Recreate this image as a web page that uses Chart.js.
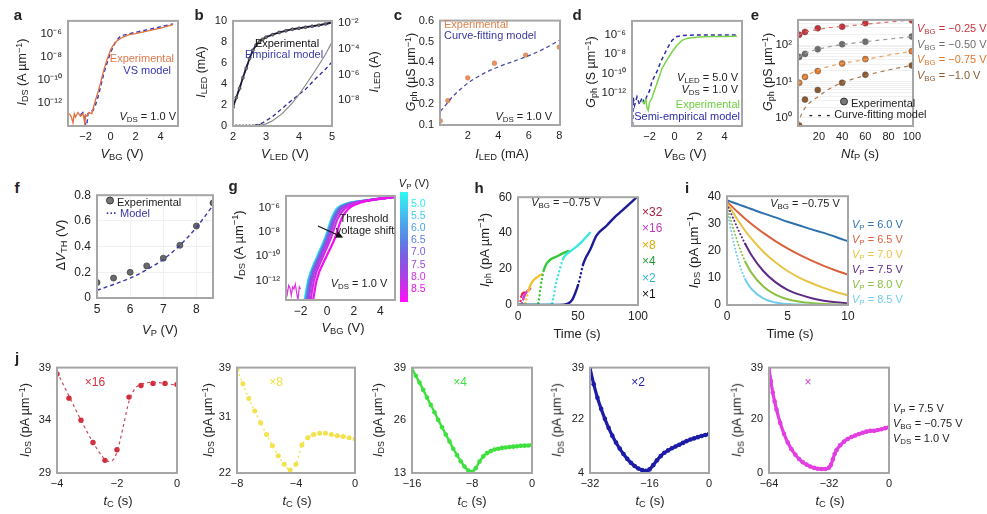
<!DOCTYPE html>
<html><head><meta charset="utf-8">
<script src="https://cdn.jsdelivr.net/npm/chart.js@4.4.1/dist/chart.umd.min.js"></script>
<style>
body{margin:0;background:#fff;width:987px;height:514px;position:relative;overflow:hidden;font-family:'Liberation Sans',Arial,sans-serif;color:#222}
canvas{position:absolute}
.t{position:absolute;white-space:nowrap;line-height:1}
sub{font-size:72%;vertical-align:-0.28em;line-height:0}
sup{font-size:72%;vertical-align:0.45em;line-height:0}
.dot{display:inline-block;width:6px;height:6px;border-radius:50%;background:#777;border:1px solid #333;margin-right:3px;vertical-align:1px}
.cbar{position:absolute;left:400px;top:192px;width:8px;height:110px;background:linear-gradient(#2ef8f0 0%,#3fd0f2 14%,#4ea2ea 30%,#5c7fe4 45%,#7a5ee0 58%,#a046e2 72%,#cc2ee8 86%,#ff10ff 100%)}
</style></head><body>
<script>
// ================= DATA =================
// a: I_DS vs V_BG (log)
const aExpV = [-3.3,-3.15,-3.0,-2.9,-2.8,-2.6,-2.4,-2.2,-2.05,-2.0,-1.9,-1.7,-1.5,-1.4,-1.2,-1.0,-0.8,-0.6,-0.3,0,0.2,0.5,1.0,1.5,2.0,3.0,4.0,5.0];
const aExpI = [1e-13,6e-14,1.6e-14,1e-13,5e-14,1.3e-13,6e-14,1e-13,1.3e-14,8e-14,6e-14,1.3e-13,1e-13,2.5e-13,1.6e-12,8e-12,5e-11,4e-10,5e-9,4e-8,1e-7,2.5e-7,5.6e-7,9e-7,1.1e-6,2e-6,3.5e-6,7e-6];
const aVsV = [-2.4,-2.2,-2.05,-2.0,-1.95,-1.9,-1.8,-1.6,-1.4,-1.2,-1.0,-0.5,0,0.4,0.8,1.5,3.0,5.0];
const aVsI = [8e-14,1.3e-13,6e-14,1e-14,8e-15,1e-14,1e-13,1.6e-13,2e-13,6e-13,3e-12,5e-10,2.5e-8,2e-7,7e-7,1.1e-6,2.5e-6,8e-6];
// b: I_LED vs V_LED
const bLogV = [2.0,2.1,2.2,2.3,2.4,2.5,2.6,2.7,2.8,2.9,3.0,3.2,3.4,3.6,3.8,4.0,4.2,4.4,4.6,4.8,5.0];
const bLogExpI = [2.9e-9,1.6e-8,8.5e-8,5.6e-7,3e-6,1.7e-5,7.4e-5,1.9e-4,3.3e-4,5.3e-4,7.7e-4,1.2e-3,1.8e-3,2.4e-3,3.2e-3,3.8e-3,4.6e-3,5.5e-3,6.6e-3,8.3e-3,1.07e-2];
const bLogModV = [2.0,2.2,2.4,2.6,2.8,3.0,3.5,4.0,4.5,5.0];
const bLogModI = [3.2e-9,9e-8,3.2e-6,7e-5,3.5e-4,8e-4,2.2e-3,3.8e-3,5.8e-3,1.0e-2];
const bLinExpV = [2.0,2.1,2.2,2.3,2.4,2.5,2.6,2.7,2.8,3.0,3.2,3.5,3.8,4.0,4.2,4.5,4.8,5.0];
const bLinExpI = [0,0,0,0,0,0,0,0.02,0.05,0.2,0.5,1.2,2.2,3.0,3.9,5.3,6.8,8.0];
const bLinModV = [2.0,2.6,2.9,3.2,3.5,3.8,4.0,4.2,4.5,4.8,5.0];
const bLinModI = [0,0,0.3,0.9,1.7,2.5,3.0,3.5,4.5,5.4,6.1];
// c: G_ph vs I_LED
const cExpX = [0.2,0.7,2.0,3.75,5.8,8.0];
const cExpG = [0.12,0.217,0.326,0.396,0.435,0.473];
const cFitX = [0.2,0.6,1,1.5,2,3,4,5,6,7,8];
const cFitG = [0.165,0.2,0.235,0.27,0.3,0.345,0.378,0.405,0.432,0.465,0.505];
// d: G_ph vs V_BG
const dExpV = [-2.6,-2.45,-2.3,-2.2,-2.1,-2.0,-1.8,-1.4,-1.0,-0.6,-0.2,0.2,0.6,1.0,1.5,2.0,3.0,4.0,5.0];
const dExpG = [1.6e-13,8e-14,2e-13,3.2e-14,1.6e-14,1e-13,3.2e-13,1e-11,3.2e-10,2.5e-9,1.6e-8,8e-8,2.5e-7,4e-7,5e-7,5.6e-7,6.3e-7,6.3e-7,6.5e-7];
const dModV = [-3.35,-3.3,-3.2,-3.0,-2.8,-2.6,-2.4,-2.2,-2.0,-1.8,-1.4,-1.1,-0.8,-0.45,-0.2,0.2,0.6,1.0,2.0,3.0,5.0];
const dModG = [4e-16,3.2e-13,5e-14,4e-13,6.3e-14,3.2e-13,1e-13,5e-13,1.6e-12,1.6e-11,1.6e-10,1.6e-9,1e-8,7.4e-8,2.5e-7,6.3e-7,8e-7,8.5e-7,8.9e-7,8.9e-7,9e-7];
// e: G_ph vs Nt_P
const eX = [3,8,19,40,60,100];
const eG025 = [195,234,295,324,407,490];
const eG050 = [48,58,78,107,126,174];
const eG075 = [9.3,13.5,19.5,31.6,41.7,69];
const eG100 = [0.62,3.2,5.9,9.3,15.5,28];
const eFitX = [2,5,10,20,30,40,60,80,100];
const eFit025 = [186,209,240,275,309,331,380,437,501];
const eFit050 = [45,52,63,79,93,105,126,148,174];
const eFit075 = [8.3,11.2,14.8,21.4,26.9,31.6,40.7,53.7,69];
const eFit100 = [0.63,1.26,2.24,4,6.6,9.3,14.8,20.9,28.2];
const eLabels = ['−0.25','−0.50','−0.75','−1.0'];
// f: dV_TH vs V_P
const fVP = [5,5.5,6,6.5,7,7.5,8,8.5];
const fExp = [0.12,0.155,0.2,0.25,0.31,0.41,0.56,0.74];
const fModel = [0.06,0.105,0.155,0.22,0.30,0.41,0.55,0.72];
// g: I_DS vs V_BG for V_P = 5.0 ... 8.5
const gVP = ['5.0','5.5','6.0','6.5','7.0','7.5','8.0','8.5'];
const gLevels = [2.5e-14,1e-12,1e-10,3e-9,1.3e-7,8e-7,2e-6,3.2e-6,5e-6,7.6e-6];
const gV50 = [-1.70,-1.44,-0.75,-0.17,0.33,0.71,1.35,2.35,3.60,5.1];
const gV55 = [-1.66,-1.40,-0.71,-0.13,0.37,0.76,1.40,2.40,3.62,5.1];
const gV60 = [-1.62,-1.36,-0.67,-0.09,0.41,0.82,1.46,2.44,3.64,5.1];
const gV65 = [-1.56,-1.31,-0.62,-0.04,0.46,0.88,1.53,2.48,3.66,5.1];
const gV70 = [-1.50,-1.25,-0.56,0.02,0.52,0.96,1.61,2.54,3.68,5.1];
const gV75 = [-1.40,-1.15,-0.46,0.12,0.62,1.10,1.76,2.62,3.72,5.1];
const gV80 = [-1.25,-1.00,-0.31,0.27,0.80,1.32,1.98,2.72,3.76,5.1];
const gV85 = [-1.06,-0.80,-0.05,0.58,1.09,1.60,2.23,2.80,3.80,5.1];
const gNoiseV = [-3.1,-3.0,-2.9,-2.8,-2.7,-2.6,-2.5,-2.4,-2.3,-2.2,-2.1,-2.0];
const gNoiseI = [3e-13,8e-14,4e-13,2.5e-13,6e-14,3e-13,2e-13,5e-13,1e-13,2.5e-14,3e-13,2e-13];
// h: I_ph vs time
const hLabels = ['×32','×16','×8','×4','×2','×1'];
const hT1 = [0,20,38,42,45,47.5,50,51.7,54.2,57,60,65.5,73.8,80,84.8,90,95,100];
const hI1 = [0,0,0.2,0.9,2.7,6.3,11,15.3,22.5,27,30.6,38.7,44.1,48.5,51.4,54.5,57.6,60.7];
const hT2 = [0,20,27,28.5,29.5,31.3,34,37.8,40,43.3,50.2,54.3,57,60];
const hI2 = [0,0,0.2,0.9,4,10.8,18,26,28,29.7,33.3,36,38,40.2];
const hT4 = [0,10,16,16.9,18.5,19.8,21.3,23,25.4,28,32.3,36,40.6,42];
const hI4 = [0,0,0.2,0.9,8.1,14,18.9,22,24.3,25.8,27,28.3,29.7,30];
const hT8 = [0,5,6.1,7.5,8.8,10,11.6,13.5,15.7,18,20];
const hI8 = [0,0,0.9,4.5,8.1,10.5,12.6,14.2,15.3,16.4,17];
const hT16 = [0,2.5,3.3,4.5,6.1,8,10.2];
const hI16 = [0,0,0.9,3.5,6.3,7.9,9.0];
const hT32 = [0,1.5,2,2.5,3.2,4,5];
const hI32 = [0,0,2,4,5.5,6.5,7];
// i: I_DS decay vs time
const iVP = ['6.0','6.5','7.0','7.5','8.0','8.5'];
const iT = [0,0.5,1,1.5,2,3,4,5,6,7,8,9,10];
const iI60 = [38.5,37.7,36.9,36.1,35.3,33.7,32.2,30.6,29.2,27.8,26.5,25.0,23.4];
const iI65 = [38,35.8,33.7,31.7,29.9,26.5,23.5,20.8,18.4,16.3,14.4,12.7,11.2];
const iI70 = [37.5,34,30.5,27.3,24.5,19.6,15.7,12.5,10,8,6.3,4.8,3.5];
const iI75 = [37,32,27,22.5,18.5,12.5,8.4,5.6,3.8,2.5,1.6,1.0,0.6];
const iI80 = [36,28.5,21.5,16,12,6.8,3.8,2.1,1.2,0.7,0.4,0.2,0.1];
const iI85 = [35,24,15.5,9.5,6,2.4,0.9,0.35,0.15,0.05,0,0,0];
// j: I_DS vs t_C
const j1T = [-4,-3.6,-3.2,-2.8,-2.4,-2.0,-1.6,-1.2,-0.8,-0.4,0];
const j1I = [38.4,36.1,34.0,31.9,30.2,31.2,36.2,37.3,37.5,37.5,37.4];
const j1ModT = [-4,-3.6,-3.2,-2.8,-2.5,-2.3,-2.15,-2.0,-1.8,-1.6,-1.4,-1.2,-0.8,-0.4,0];
const j1ModI = [38.6,36.3,34.0,31.9,30.6,30.1,30.2,31.0,33.3,35.8,37.0,37.4,37.6,37.5,37.3];
const j2T = [-8,-7.6,-7.2,-6.8,-6.4,-6.0,-5.6,-5.2,-4.8,-4.4,-4.0,-3.6,-3.2,-2.8,-2.4,-2.0,-1.6,-1.2,-0.8,-0.4,0];
const j2I = [38.7,36.4,34.0,32.0,30.1,28.2,26.4,24.8,23.4,22.5,23.4,26.5,27.7,28.2,28.4,28.4,28.2,28.0,27.9,27.7,27.5];
const j3T = [-16,-15.5,-15,-14.5,-14,-13.5,-13,-12.5,-12,-11.5,-11,-10.5,-10,-9.5,-9,-8.5,-8,-7.5,-7,-6.5,-6,-5.5,-5,-4.5,-4,-3.5,-3,-2.5,-2,-1.5,-1,-0.5,0];
const j3I = [38.8,37.0,35.3,33.5,31.6,29.8,28.0,26.1,24.3,22.5,20.8,19.0,17.4,15.9,14.6,13.6,13.3,14.2,15.8,17.1,17.9,18.4,18.8,19.0,19.2,19.3,19.4,19.5,19.6,19.7,19.75,19.8,19.9];
const j4T = [-32,-31,-30,-29,-28,-27,-26,-25,-24,-23,-22,-21,-20,-19,-18,-17,-16,-15,-14,-13,-12,-11,-10,-9,-8,-7,-6,-5,-4,-3,-2,-1,0];
const j4I = [38.8,33.5,29.0,25.3,22.0,19.0,16.4,14.1,12.1,10.3,8.7,7.4,6.3,5.5,5.0,4.7,5.2,6.6,8.2,9.6,10.7,11.5,12.2,12.8,13.4,14.0,14.6,15.1,15.5,15.9,16.3,16.6,16.9];
const j5T = [-64,-63,-62,-61,-60,-58,-56,-54,-52,-50,-48,-46,-44,-42,-40,-38,-36,-34,-32,-31,-30,-29,-28,-26,-24,-22,-20,-18,-16,-14,-12,-10,-8,-6,-4,-2,0];
const j5I = [38.6,34,29.8,26.5,23.5,18.5,14.5,11.3,8.8,6.8,5.2,4.0,3.1,2.4,1.9,1.6,1.5,1.5,2.0,3.0,5.0,7.0,8.4,10.3,11.6,12.6,13.3,13.9,14.4,14.9,15.3,15.6,15.6,15.9,16.2,16.6,16.9];

// ================= HELPERS =================
const FONT = "'Liberation Sans', Arial, sans-serif";
Chart.defaults.font.family = FONT;
Chart.defaults.color = '#222';
const SUP = {'0':'⁰','1':'¹','2':'²','3':'³','4':'⁴','5':'⁵','6':'⁶','7':'⁷','8':'⁸','9':'⁹','-':'⁻'};
const pow10 = v => '10' + String(Math.round(Math.log10(v))).split('').map(c => SUP[c]).join('');
const mns = v => String(v).replace('-', '\u2212');
const xy = (xs, ys) => xs.map((x, i) => ({x: x, y: ys[i]}));
const fixedTicks = arr => sc => { sc.ticks = arr.map(v => ({value: v})); };
const DASH = [4, 3];

const framePlugin = {id: 'frame', afterDraw(chart) {
  const a = chart.chartArea, ctx = chart.ctx;
  ctx.save(); ctx.strokeStyle = '#a6a6a6'; ctx.lineWidth = 2;
  ctx.strokeRect(a.left, a.top, a.right - a.left, a.bottom - a.top); ctx.restore();
}};

function line(xs, ys, color, extra) {
  return Object.assign({data: xy(xs, ys), borderColor: color, backgroundColor: color,
    borderWidth: 1.4, pointRadius: 0, pointBorderWidth: 0, tension: 0, fill: false}, extra || {});
}
function steep(thr, dash) {
  return {borderDash: c => (Math.abs((c.p1.y - c.p0.y) / ((c.p1.x - c.p0.x) || 0.01)) > thr ? dash : undefined)};
}

function panel(box, datasets, scales) {
  const PL = 50, PT = 10, PR = box.pr || 22, PB = 28;
  const cv = document.createElement('canvas');
  const W = box.r - box.l + PL + PR, H = box.b - box.t + PT + PB;
  cv.width = W; cv.height = H;
  cv.style.left = (box.l - PL) + 'px'; cv.style.top = (box.t - PT) + 'px';
  cv.style.width = W + 'px'; cv.style.height = H + 'px';
  document.body.appendChild(cv);
  for (const [id, s] of Object.entries(scales)) {
    s.grid = Object.assign({display: false, drawTicks: false}, s.grid || {});
    s.border = {display: false};
    s.title = {display: false};
    const isX = id.startsWith('x');
    s.ticks = Object.assign({padding: isX ? 4 : 6, font: {size: box.fs || 11}, color: '#222', autoSkip: false, maxRotation: 0},
      s.ticks || {});
    const pos = s.position || (isX ? 'bottom' : 'left');
    s.afterFit = sc => { if (pos === 'bottom') sc.height = PB; else if (pos === 'left') sc.width = PL; else sc.width = PR; };
  }
  new Chart(cv, {
    type: 'line',
    data: {datasets: datasets},
    options: {
      responsive: false, animation: false, maintainAspectRatio: false,
      layout: {padding: {top: PT, right: box.rightAxis ? 0 : PR, left: 0, bottom: 0}},
      plugins: {legend: {display: false}, tooltip: {enabled: false}},
      scales: scales
    },
    plugins: [framePlugin]
  });
}

function txt(html, x, y, o) {
  o = o || {};
  const d = document.createElement('div');
  d.className = 't'; d.innerHTML = html;
  d.style.left = x + 'px'; d.style.top = y + 'px';
  d.style.fontSize = (o.size || 12) + 'px';
  if (o.color) d.style.color = o.color;
  if (o.bold) d.style.fontWeight = 'bold';
  let tr = o.align === 'l' ? 'translate(0,-50%)' : o.align === 'r' ? 'translate(-100%,-50%)' : 'translate(-50%,-50%)';
  if (o.rot) tr += ' rotate(-90deg)';
  d.style.transform = tr;
  document.body.appendChild(d);
}

const logY = (min, max, ticks, extra) => Object.assign({type: 'logarithmic', min: min, max: max,
  afterBuildTicks: fixedTicks(ticks), ticks: {callback: v => pow10(v), font: {size: 11.5}}}, extra || {});
const linX = (min, max, ticks, fmt) => ({type: 'linear', min: min, max: max,
  afterBuildTicks: fixedTicks(ticks), ticks: {callback: fmt || (v => mns(v))}});
const linY = linX;

// ================= PANELS =================
const ORANGE = '#e0703c', NAVY = '#2b2b9a';
// a
panel({l: 68, t: 18, r: 178, b: 126}, [
  line(aExpV, aExpI, ORANGE, {borderWidth: 1.3}),
  line(aVsV, aVsI, '#3d3dc0', {borderDash: DASH, borderWidth: 1.5})
], {x: linX(-3.4, 5.4, [-2, 0, 2, 4]), y: logY(10 ** -14.08, 10 ** -4.83, [1e-12, 1e-10, 1e-8, 1e-6])});

// b
panel({l: 233, t: 18, r: 332, b: 126, pr: 45, rightAxis: true}, [
  line(bLinExpV, bLinExpI, '#8a8a8a', {borderWidth: 1.2, pointRadius: c => (c.raw && c.raw.y < 0.1 ? 1.4 : 0), pointBackgroundColor: '#333'}),
  line(bLinModV, bLinModI, NAVY, {borderDash: DASH, borderWidth: 1.3}),
  line(bLogV, bLogExpI, '#1a1a3a', {yAxisID: 'y2', borderWidth: 1.8, pointRadius: 1.5, pointBackgroundColor: '#777', pointBorderColor: '#333', pointBorderWidth: 0.6}),
  line(bLogModV, bLogModI, '#3b3bb8', {yAxisID: 'y2', borderDash: DASH, borderWidth: 1.6, cubicInterpolationMode: 'monotone'})
], {x: linX(2, 5, [2, 3, 4, 5]), y: linY(0, 10, [0, 2, 4, 6, 8, 10]),
    y2: Object.assign(logY(1e-10, 10 ** -1.85, [1e-8, 1e-6, 1e-4, 1e-2]), {position: 'right'})});

// c
panel({l: 440, t: 18, r: 560, b: 125}, [
  line(cFitX, cFitG, '#4a4aa8', {borderDash: DASH, borderWidth: 1.3, cubicInterpolationMode: 'monotone'}),
  line(cExpX, cExpG, '#e08850', {showLine: false, pointRadius: 2.6, pointBackgroundColor: '#e59060'})
], {x: linX(0.18, 8.05, [2, 4, 6, 8]), y: linY(0.1, 0.6, [0.1, 0.2, 0.3, 0.4, 0.5, 0.6], v => v.toFixed(1))});

// d
panel({l: 632, t: 18, r: 742, b: 126}, [
  line(dExpV, dExpG, '#7cd44a', {borderWidth: 1.5}),
  line(dModV, dModG, '#2e2eaa', {borderDash: DASH, borderWidth: 1.5})
], {x: linX(-3.4, 5.4, [-2, 0, 2, 4]), y: logY(10 ** -15.4, 10 ** -4.6, [1e-12, 1e-10, 1e-8, 1e-6])});

// e
const eCol = ['#c8323a', '#6e6e6e', '#e0782c', '#8c5a30'];
const eFitCol = ['#d86a6a', '#9a9a9a', '#eaa060', '#a87a50'];
const eSeries = [eG025, eG050, eG075, eG100];
const eFits = [eFit025, eFit050, eFit075, eFit100];
const eDs = [];
eFits.forEach((f, k) => eDs.push(line(eFitX, f, eFitCol[k], {borderDash: [4, 4], borderWidth: 1.2, cubicInterpolationMode: 'monotone'})));
eSeries.forEach((s, k) => eDs.push(line(eX, s, eCol[k], {showLine: false, pointRadius: 3, pointBackgroundColor: eCol[k], pointBorderColor: '#555', pointBorderWidth: 0.5})));
const eGridTicks = [1, 2, 3, 4, 5, 6, 7, 8, 9, 10, 20, 30, 40, 50, 60, 70, 80, 90, 100, 200, 300, 400, 500];
panel({l: 798, t: 17, r: 913, b: 126}, eDs, {
  x: linX(2, 101, [20, 40, 60, 80, 100]),
  y: {type: 'logarithmic', min: 10 ** -0.21, max: 10 ** 2.7, afterBuildTicks: fixedTicks(eGridTicks),
      grid: {display: true, color: '#f0f0f0', lineWidth: 1},
      ticks: {callback: v => ([1, 10, 100].includes(v) ? pow10(v) : ''), font: {size: 11.5}}}
});

// f
panel({l: 97, t: 192, r: 213, b: 298, fs: 12}, [
  line(fVP, fModel, '#3a3aa6', {borderDash: DASH, borderWidth: 1.4, cubicInterpolationMode: 'monotone'}),
  line(fVP, fExp, '#666', {showLine: false, pointRadius: 3, pointBackgroundColor: '#6a6a6a', pointBorderColor: '#444', pointBorderWidth: 0.8})
], {x: Object.assign(linX(5, 8.5, [5, 6, 7, 8]), {grid: {display: true, color: '#f0f0f0'}}),
    y: Object.assign(linY(0, 0.8, [0, 0.2, 0.4, 0.6, 0.8], v => (v === 0 ? '0' : v.toFixed(1))), {grid: {display: true, color: '#f0f0f0'}})});

// g
const gCol = ['#2ef2ee', '#3fc9f0', '#4ea2ea', '#5c7fe4', '#7a5ee0', '#a046e2', '#cc2ee8', '#f010f0'];
const gVs = [gV50, gV55, gV60, gV65, gV70, gV75, gV80, gV85];
const gDs = [line(gNoiseV, gNoiseI, '#e030e0', {borderWidth: 1.2})];
gVs.slice().reverse().forEach((v, k) => {
  const idx = gVs.length - 1 - k;
  gDs.push(line(v, gLevels, gCol[idx], {borderWidth: 2.2, cubicInterpolationMode: 'monotone'}));
});
panel({l: 286, t: 193, r: 395, b: 300, fs: 12}, gDs,
  {x: linX(-3.1, 5.1, [-2, 0, 2, 4]), y: logY(10 ** -13.6, 10 ** -5.04, [1e-12, 1e-10, 1e-8, 1e-6])});

// h
const hCol = ['#e8204e', '#d03cd0', '#f0c232', '#38c838', '#3ee6e0', '#1c1c96'];
const hT = [hT32, hT16, hT8, hT4, hT2, hT1];
const hI = [hI32, hI16, hI8, hI4, hI2, hI1];
const hDs = [];
for (let k = 5; k >= 0; k--) hDs.push(line(hT[k], hI[k], hCol[k], {borderWidth: 2.4, borderCapStyle: 'round', segment: steep(3, [0.1, 4]), cubicInterpolationMode: 'monotone'}));
panel({l: 518, t: 194, r: 638, b: 305, fs: 12}, hDs,
  {x: linX(0, 100, [0, 50, 100]), y: linY(0, 60, [0, 20, 40, 60])});

// i
const iCol = ['#2e72ad', '#d9623c', '#e9c443', '#5e2a86', '#8dc040', '#70cdf0'];
const iI = [iI60, iI65, iI70, iI75, iI80, iI85];
const iDs = [];
for (let k = 5; k >= 0; k--) iDs.push(line(iT, iI[k], iCol[k], {borderWidth: 2, borderCapStyle: 'round', segment: steep(2, [0.1, 3.5]), cubicInterpolationMode: 'monotone'}));
panel({l: 727, t: 193, r: 848, b: 305, fs: 12}, iDs,
  {x: linX(0, 10, [0, 5, 10]), y: linY(0, 40, [0, 10, 20, 30, 40])});

// j
panel({l: 57, t: 365, r: 177, b: 473}, [
  line(j1ModT, j1ModI, '#c8485a', {borderDash: [3, 3], borderWidth: 1.2, cubicInterpolationMode: 'monotone'}),
  line(j1T, j1I, '#d42a3a', {showLine: false, pointRadius: 2.7})
], {x: linX(-4, 0, [-4, -2, 0]), y: linY(29, 39, [29, 34, 39])});
panel({l: 237, t: 365, r: 355, b: 473}, [
  line(j2T, j2I, '#f2e24c', {borderDash: [2, 3], borderWidth: 1.3, pointRadius: 2.5, cubicInterpolationMode: 'monotone'})
], {x: linX(-8, 0, [-8, -4, 0]), y: linY(22, 39, [22, 31, 39])});
panel({l: 412, t: 365, r: 532, b: 473}, [
  line(j3T, j3I, '#3ee03e', {borderWidth: 2.4, pointRadius: 2.3, cubicInterpolationMode: 'monotone'})
], {x: linX(-16, 0, [-16, -8, 0]), y: linY(13, 39, [13, 26, 39])});
panel({l: 590, t: 365, r: 709, b: 473}, [
  line(j4T, j4I, '#1c1ca8', {borderWidth: 3.2, pointRadius: 2.3, cubicInterpolationMode: 'monotone'})
], {x: linX(-32, 0, [-32, -16, 0]), y: linY(4, 39, [4, 22, 39])});
panel({l: 769, t: 365, r: 889, b: 473}, [
  line(j5T, j5I, '#e23ee2', {borderWidth: 3.2, pointRadius: 2.3, cubicInterpolationMode: 'monotone'})
], {x: linX(-64, 0, [-64, -32, 0]), y: linY(0, 39, [0, 20, 39])});

// ================= TEXT =================
const L = {bold: true, size: 15};
txt('a', 18, 14, L); txt('b', 199, 14, L); txt('c', 398, 14, L); txt('d', 577, 14, L); txt('e', 755, 14, L);
txt('f', 17, 187, L); txt('g', 233, 185, L); txt('h', 479, 187, L); txt('i', 687, 187, L); txt('j', 17, 357, L);

const IDS_A = '<i>I</i><sub>DS</sub> (A µm<sup>−1</sup>)';
const IDS_pA = '<i>I</i><sub>DS</sub> (pA µm<sup>−1</sup>)';
const VBG = '<i>V</i><sub>BG</sub> (V)';
const R = {rot: true, size: 12.5};
const R2 = {rot: true, size: 13};
// y titles
txt(IDS_A, 22, 72, R);
txt('<i>I</i><sub>LED</sub> (mA)', 201, 72, R);
txt('<i>I</i><sub>LED</sub> (A)', 374, 72, R);
txt('<i>G</i><sub>ph</sub> (µS µm<sup>−1</sup>)', 411, 72, R);
txt('<i>G</i><sub>ph</sub> (S µm<sup>−1</sup>)', 591, 72, R);
txt('<i>G</i><sub>ph</sub> (pS µm<sup>−1</sup>)', 768, 72, R);
txt('Δ<i>V</i><sub>TH</sub> (V)', 60, 245, R2);
txt(IDS_A, 238, 245, R2);
txt('<i>I</i><sub>ph</sub> (pA µm<sup>−1</sup>)', 484, 250, R2);
txt(IDS_pA, 693, 250, R2);
[25, 208, 378, 557, 737].forEach(x => txt(IDS_pA, x, 420, R));
// x titles
const X1 = {size: 13};
txt(VBG, 122, 153, X1); txt('<i>V</i><sub>LED</sub> (V)', 285, 153, X1); txt('<i>I</i><sub>LED</sub> (mA)', 502, 153, X1);
txt(VBG, 685, 153, X1); txt('<i>Nt</i><sub>P</sub> (s)', 860, 153, X1);
txt('<i>V</i><sub>P</sub> (V)', 160, 329, X1); txt(VBG, 343, 327, X1); txt('Time (s)', 577, 333, X1); txt('Time (s)', 790, 333, X1);
[118, 297, 472, 650, 830].forEach(x => txt('<i>t</i><sub>C</sub> (s)', x, 500, X1));

// annotations
const A = {size: 11, align: 'r'};
txt('Experimental', 174, 58, Object.assign({}, A, {color: '#e0784a'}));
txt('VS model', 171, 70, Object.assign({}, A, {color: '#3535b5'}));
txt('<i>V</i><sub>DS</sub> = 1.0 V', 176, 116, A);
txt('Experimental', 287, 43, {size: 11, color: '#111'});
txt('Empirical model', 284, 54, {size: 11, color: '#3a3aa8'});
txt('Experimental', 444, 24, {size: 11, align: 'l', color: '#e0804a'});
txt('Curve-fitting model', 444, 35, {size: 11, align: 'l', color: '#3a3aa0'});
txt('<i>V</i><sub>DS</sub> = 1.0 V', 552, 116, A);
txt('<i>V</i><sub>LED</sub> = 5.0 V', 738, 77, A);
txt('<i>V</i><sub>DS</sub> = 1.0 V', 738, 89, A);
txt('Experimental', 740, 104, Object.assign({}, A, {color: '#6cd040'}));
txt('Semi-empirical model', 740, 116, Object.assign({}, A, {color: '#2e2eaa'}));
eLabels.forEach((s, k) => txt('<i>V</i><sub>BG</sub> = ' + s + ' V', 917, 28 + k * 15.5, {size: 11, align: 'l', color: eCol[k]}));
txt('<span class="dot"></span>Experimental', 840, 103, {size: 11, align: 'l'});
txt('<b style="letter-spacing:1px">- - -</b> Curve-fitting model', 809, 114, {size: 11, align: 'l'});
txt('<span class="dot"></span>Experimental', 106, 202, {size: 11, align: 'l'});
txt('<span style="color:#3a3aa6;font-weight:bold">···</span> <span style="color:#3a3aa6">Model</span>', 106, 213, {size: 11, align: 'l'});
txt('Threshold', 364, 218, {size: 11});
txt('voltage shift', 365, 230, {size: 11});
txt('<i>V</i><sub>DS</sub> = 1.0 V', 359, 283, {size: 11});
txt('<i>V</i><sub>P</sub> (V)', 414, 183, {size: 11});
gVP.forEach((s, k) => txt(s, 411, 203 + k * 12.1, {size: 10.5, align: 'l', color: gCol[k]}));
txt('<i>V</i><sub>BG</sub> = −0.75 V', 566, 202, {size: 11});
const hTxtCol = ['#a8203e', '#c03cc0', '#e0a800', '#28a040', '#30b4d0', '#111'];
hLabels.forEach((s, k) => txt(s, 642, 212 + k * 16.4, {size: 12, align: 'l', color: hTxtCol[k]}));
txt('<i>V</i><sub>BG</sub> = −0.75 V', 805, 203, {size: 11});
iVP.forEach((s, k) => txt('<i>V</i><sub>P</sub> = ' + s + ' V', 852, 224 + k * 15, {size: 11, align: 'l', color: iCol[k]}));
txt('×16', 95, 382, {size: 12, color: '#d03040'});
txt('×8', 276, 382, {size: 12, color: '#f0e040'});
txt('×4', 460, 382, {size: 12, color: '#44dd44'});
txt('×2', 638, 382, {size: 12, color: '#2020a0'});
txt('×', 808, 382, {size: 12, color: '#d040d0'});
txt('<i>V</i><sub>P</sub> = 7.5 V', 893, 408, {size: 11, align: 'l'});
txt('<i>V</i><sub>BG</sub> = −0.75 V', 893, 423, {size: 11, align: 'l'});
txt('<i>V</i><sub>DS</sub> = 1.0 V', 893, 438, {size: 11, align: 'l'});
// colorbar + arrow
const cb = document.createElement('div'); cb.className = 'cbar'; document.body.appendChild(cb);
const svg = document.createElementNS('http://www.w3.org/2000/svg', 'svg');
svg.setAttribute('style', 'position:absolute;left:0;top:0;width:987px;height:514px;pointer-events:none');
svg.innerHTML = '<defs><marker id="ah" markerWidth="6" markerHeight="6" refX="5" refY="3" orient="auto"><path d="M0,0 L6,3 L0,6 z" fill="#111"/></marker></defs>' +
  '<line x1="318" y1="226" x2="342" y2="237" stroke="#111" stroke-width="1.2" marker-end="url(#ah)"/>';
document.body.appendChild(svg);
</script>
</body></html>
